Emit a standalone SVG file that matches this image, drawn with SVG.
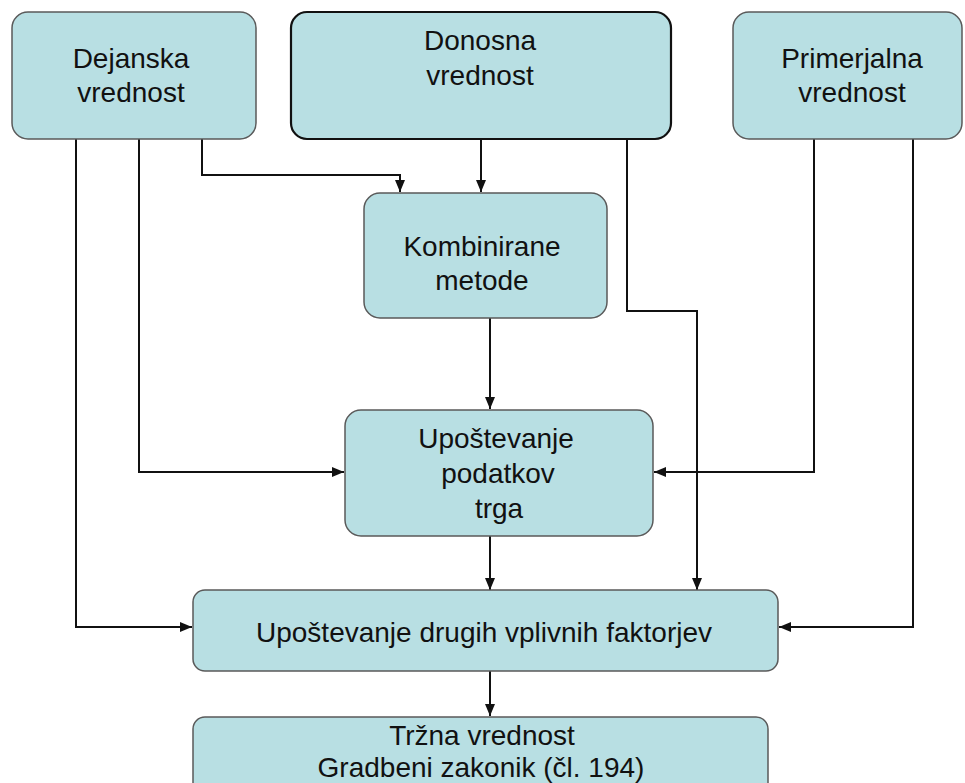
<svg xmlns="http://www.w3.org/2000/svg" width="965" height="783" viewBox="0 0 965 783">
  <style>
    .box { fill: #b8dfe3; stroke: #5a5a5a; stroke-width: 1.5; }
    .box.strong { stroke: #111; stroke-width: 2.2; }
    .lbl { font-family: "Liberation Sans", Arial, sans-serif; font-size: 28px; fill: #111; text-anchor: middle; }
    .wire { fill: none; stroke: #111; stroke-width: 2; }
  </style>
  <defs>
    <marker id="arrow" viewBox="0 0 10 10" refX="10" refY="5" markerWidth="6" markerHeight="6" markerUnits="userSpaceOnUse" orient="auto">
      <path d="M0,0 L10,5 L0,10 z" fill="#111"/>
    </marker>
    <marker id="head" viewBox="0 0 12 12" refX="12" refY="6" markerWidth="12" markerHeight="12" markerUnits="userSpaceOnUse" orient="auto">
      <path d="M0,1 L12,6 L0,11 z" fill="#111"/>
    </marker>
  </defs>

  <rect width="965" height="783" fill="#fff"/>

  <!-- connectors -->
  <g id="connectors">
    <path class="wire" d="M202,139 V175 H400 V192" marker-end="url(#head)"/>
    <path class="wire" d="M481,139 V192" marker-end="url(#head)"/>
    <path class="wire" d="M627,139 V311 H697 V590" marker-end="url(#head)"/>
    <path class="wire" d="M490,318 V409" marker-end="url(#head)"/>
    <path class="wire" d="M139,139 V472 H344" marker-end="url(#head)"/>
    <path class="wire" d="M814,139 V472 H654" marker-end="url(#head)"/>
    <path class="wire" d="M490,536 V590" marker-end="url(#head)"/>
    <path class="wire" d="M76,139 V627 H192" marker-end="url(#head)"/>
    <path class="wire" d="M913,139 V627 H779" marker-end="url(#head)"/>
    <path class="wire" d="M490,671 V716" marker-end="url(#head)"/>
  </g>

  <g id="dejanska">
    <rect class="box" x="12" y="12" width="244" height="127" rx="16"/>
    <text class="lbl" x="131" y="68">Dejanska</text>
    <text class="lbl" x="131" y="102">vrednost</text>
  </g>

  <g id="donosna">
    <rect class="box strong" x="291" y="12" width="380" height="127" rx="16"/>
    <text class="lbl" x="480" y="50">Donosna</text>
    <text class="lbl" x="480" y="85">vrednost</text>
  </g>

  <g id="primerjalna">
    <rect class="box" x="733" y="12" width="229" height="127" rx="16"/>
    <text class="lbl" x="852" y="68">Primerjalna</text>
    <text class="lbl" x="852" y="102">vrednost</text>
  </g>

  <g id="kombinirane">
    <rect class="box" x="364" y="193" width="243" height="125" rx="16"/>
    <text class="lbl" x="482" y="256">Kombinirane</text>
    <text class="lbl" x="482" y="290">metode</text>
  </g>

  <g id="podatki-trga">
    <rect class="box" x="345" y="410" width="308" height="126" rx="16"/>
    <text class="lbl" x="496" y="448">Upoštevanje</text>
    <text class="lbl" x="498" y="483">podatkov</text>
    <text class="lbl" x="499" y="518">trga</text>
  </g>

  <g id="drugi-faktorji">
    <rect class="box" x="193" y="590" width="585" height="81" rx="12"/>
    <text class="lbl" x="484" y="642">Upoštevanje drugih vplivnih faktorjev</text>
  </g>

  <g id="trzna">
    <rect class="box" x="193" y="717" width="575" height="90" rx="12"/>
    <text class="lbl" x="482" y="745">Tržna vrednost</text>
    <text class="lbl" x="481" y="777">Gradbeni zakonik (čl. 194)</text>
  </g>
</svg>
